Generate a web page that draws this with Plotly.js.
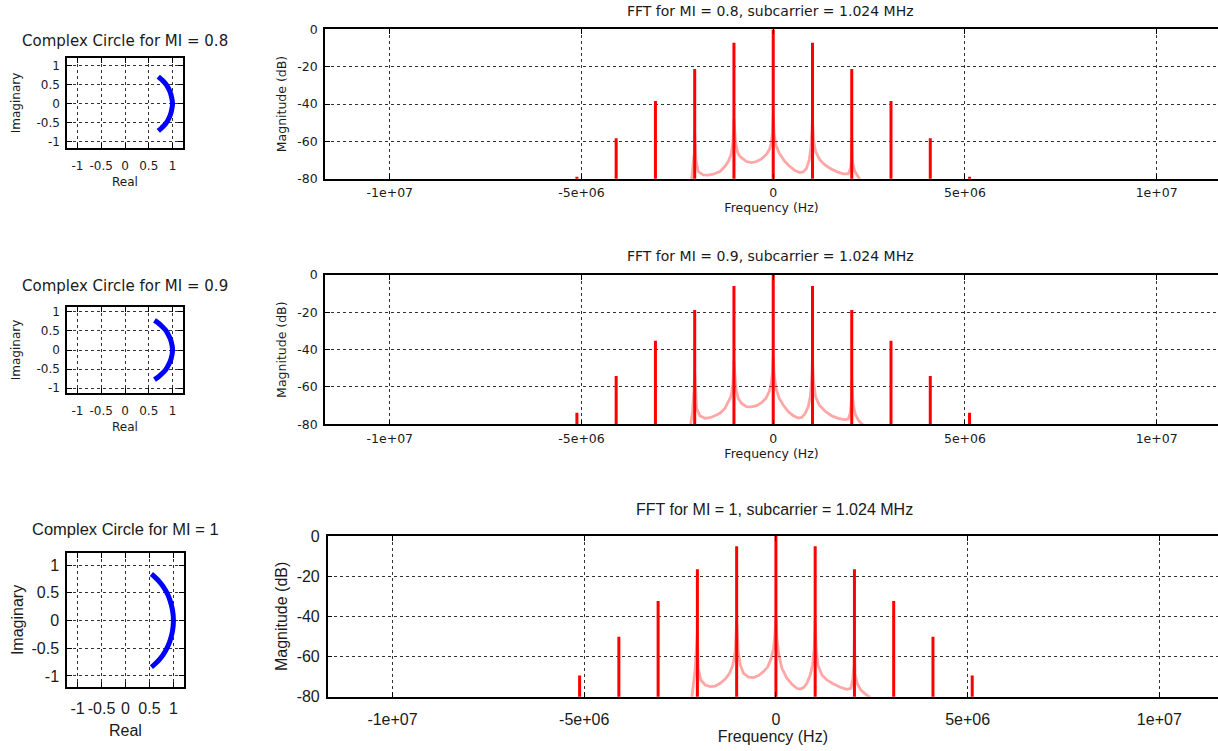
<!DOCTYPE html>
<html><head><meta charset="utf-8">
<script src="https://cdn.plot.ly/plotly-3.0.1.min.js"></script>
<style>html,body{margin:0;padding:0;background:#fff;} #chart{width:1218px;height:751px;}</style>
</head><body><div id="chart"></div>
<script>
// ---------- data ----------
const miLabels = ['0.8', '0.9', '1'];
const circleTitles = ['Complex Circle for MI = 0.8', 'Complex Circle for MI = 0.9', 'Complex Circle for MI = 1'];
const fftTitles = ['FFT for MI = 0.8, subcarrier = 1.024 MHz', 'FFT for MI = 0.9, subcarrier = 1.024 MHz', 'FFT for MI = 1, subcarrier = 1.024 MHz'];

// complex circle arcs
const arc1Re = [0.70, 0.77, 0.84, 0.90, 0.95, 0.98, 1.00, 0.98, 0.95, 0.90, 0.84, 0.77, 0.70];
const arc1Im = [0.72, 0.64, 0.55, 0.44, 0.31, 0.17, 0.00, -0.17, -0.31, -0.44, -0.55, -0.64, -0.72];
const arc2Re = [0.62, 0.70, 0.78, 0.86, 0.92, 0.97, 1.00, 0.97, 0.92, 0.86, 0.78, 0.70, 0.62];
const arc2Im = [0.78, 0.71, 0.62, 0.51, 0.38, 0.23, 0.00, -0.23, -0.38, -0.51, -0.62, -0.71, -0.78];
const arc3Re = [0.54, 0.62, 0.71, 0.79, 0.87, 0.93, 0.98, 1.00, 0.98, 0.93, 0.87, 0.79, 0.71, 0.62, 0.54];
const arc3Im = [0.84, 0.78, 0.70, 0.61, 0.49, 0.36, 0.19, 0.00, -0.19, -0.36, -0.49, -0.61, -0.70, -0.78, -0.84];

// spectral lines (Hz, dB)
const stemFreq = [-5.12e6, -4.096e6, -3.072e6, -2.048e6, -1.024e6, 0, 1.024e6, 2.048e6, 3.072e6, 4.096e6, 5.12e6];
const stem1Db = [-79.0, -58.3, -38.4, -21.2, -7.2, 0, -7.2, -21.2, -38.4, -58.3, -79.0];
const stem2Db = [-73.8, -54.1, -35.2, -18.8, -5.9, 0, -5.9, -18.8, -35.2, -54.1, -73.8];
const stem3Db = [-69.5, -50.1, -32.4, -16.6, -5.1, 0, -5.1, -16.6, -32.4, -50.1, -69.5];

// leakage curve (light red) MI = 0.8
const leak1F = [-2.130e6, -2.087e6, -2.060e6, -2.048e6, -2.017e6, -1.956e6, -1.826e6, -1.695e6, -1.565e6, -1.391e6, -1.261e6, -1.174e6, -1.104e6, -1.052e6, -1.024e6,
  -0.985e6, -0.930e6, -0.869e6, -0.696e6, -0.565e6, -0.435e6, -0.304e6, -0.174e6, -0.096e6, -0.052e6, -0.017e6, 0,
  0.026e6, 0.070e6, 0.157e6, 0.304e6, 0.435e6, 0.565e6, 0.696e6, 0.782e6, 0.869e6, 0.939e6, 0.982e6, 1.009e6, 1.024e6,
  1.052e6, 1.104e6, 1.217e6, 1.348e6, 1.478e6, 1.652e6, 1.826e6, 1.956e6, 2.017e6, 2.043e6, 2.048e6, 2.069e6, 2.130e6, 2.200e6, 2.260e6];
const leak1Db = [-80.5, -73.5, -66.4, -55.0, -69.9, -76.2, -78.0, -78.1, -77.6, -76.2, -73.5, -70.8, -67.3, -61.0, -48.0,
  -60.0, -66.0, -68.1, -70.8, -71.4, -70.8, -69.4, -66.9, -64.2, -61.0, -54.8, -46.0,
  -56.6, -61.9, -66.4, -70.8, -73.5, -75.6, -76.7, -76.4, -74.4, -69.9, -63.7, -55.7, -48.0,
  -59.2, -65.5, -69.9, -72.6, -74.4, -76.2, -77.4, -77.4, -74.4, -69.0, -58.0, -71.7, -76.2, -78.9, -80.5];

// leakage curve MI = 0.9
const leak2F = [-2.156e6, -2.104e6, -2.069e6, -2.048e6, -2.000e6, -1.913e6, -1.782e6, -1.652e6, -1.521e6, -1.391e6, -1.261e6, -1.174e6, -1.104e6, -1.052e6, -1.024e6,
  -0.974e6, -0.913e6, -0.826e6, -0.696e6, -0.565e6, -0.435e6, -0.304e6, -0.191e6, -0.104e6, -0.052e6, -0.017e6, 0,
  0.026e6, 0.070e6, 0.157e6, 0.261e6, 0.391e6, 0.522e6, 0.652e6, 0.739e6, 0.826e6, 0.913e6, 0.965e6, 1.000e6, 1.024e6,
  1.052e6, 1.104e6, 1.200e6, 1.348e6, 1.521e6, 1.695e6, 1.869e6, 1.956e6, 2.008e6, 2.043e6, 2.048e6, 2.087e6, 2.147e6, 2.234e6, 2.347e6];
const leak2Db = [-80.5, -73.2, -62.5, -52.0, -71.5, -75.4, -76.8, -76.5, -75.4, -74.1, -71.5, -68.4, -65.2, -58.9, -46.0,
  -60.7, -66.1, -68.8, -70.6, -70.7, -70.0, -68.4, -66.1, -62.5, -58.1, -51.8, -44.0,
  -53.6, -60.7, -66.1, -69.7, -73.2, -75.4, -76.6, -76.3, -74.5, -70.6, -65.2, -57.2, -45.0,
  -57.2, -65.2, -69.7, -72.9, -75.4, -76.8, -77.5, -77.2, -74.1, -66.1, -56.0, -69.7, -75.0, -78.2, -80.5];

// leakage curve MI = 1
const leak3F = [-2.192e6, -2.148e6, -2.105e6, -2.079e6, -2.048e6, -2.027e6, -1.957e6, -1.844e6, -1.714e6, -1.583e6, -1.453e6, -1.322e6, -1.209e6, -1.122e6, -1.062e6, -1.024e6,
  -0.983e6, -0.931e6, -0.844e6, -0.714e6, -0.583e6, -0.453e6, -0.323e6, -0.209e6, -0.123e6, -0.062e6, -0.027e6, 0,
  0.025e6, 0.077e6, 0.156e6, 0.286e6, 0.417e6, 0.547e6, 0.634e6, 0.721e6, 0.808e6, 0.895e6, 0.955e6, 0.999e6, 1.024e6,
  1.051e6, 1.095e6, 1.199e6, 1.329e6, 1.503e6, 1.677e6, 1.851e6, 1.955e6, 2.008e6, 2.034e6, 2.048e6, 2.068e6, 2.129e6, 2.216e6, 2.329e6, 2.460e6];
const leak3Db = [-80.5, -74.2, -65.9, -57.6, -48.0, -65.9, -71.7, -74.2, -75.0, -74.7, -73.3, -71.2, -68.4, -64.2, -57.6, -42.0,
  -57.6, -64.2, -68.4, -70.3, -70.5, -69.5, -67.5, -65.0, -60.9, -55.9, -49.3, -40.0,
  -50.9, -59.2, -65.9, -70.8, -73.8, -75.8, -76.2, -75.5, -73.3, -69.2, -64.2, -55.9, -42.0,
  -55.9, -64.2, -69.2, -71.7, -73.7, -75.3, -76.3, -75.8, -70.8, -64.2, -52.0, -69.2, -73.8, -76.7, -78.6, -80.5];

const circleTicks = [-1, -0.5, 0, 0.5, 1];
const circleTickText = ['-1', '-0.5', '0', '0.5', '1'];
const freqTicks = [-1e7, -5e6, 0, 5e6, 1e7];
const freqTickText = ['-1e+07', '-5e+06', '0', '5e+06', '1e+07'];
const dbTicks = [-80, -60, -40, -20, 0];
const dbTickText = ['-80', '-60', '-40', '-20', '0'];

// ---------- layout helpers ----------
const W = 1218, H = 751;
const dx = (a, b) => [a / W, b / W];
const dy = (t, b) => [1 - b / H, 1 - t / H];

const fontA = 'DejaVu Sans, sans-serif';
const fontB = 'Liberation Sans, Arial, sans-serif';
const txt = '#1a1a1a';

function baseAxis(extra) {
  return Object.assign({
    showline: true, linecolor: '#000', linewidth: 1.5,
    ticks: 'inside', ticklen: 5, tickcolor: '#000', tickwidth: 1.2,
    showgrid: true, gridcolor: '#333', griddash: 'dot', gridwidth: 1,
    zeroline: false, fixedrange: true, automargin: false
  }, extra);
}

const stemsXY = (f, db) => {
  const x = [], y = [];
  f.forEach((v, i) => { x.push(v, v, null); y.push(-90, db[i], null); });
  return { x, y };
};

const arcs = [[arc1Re, arc1Im], [arc2Re, arc2Im], [arc3Re, arc3Im]];
const leaks = [[leak1F, leak1Db], [leak2F, leak2Db], [leak3F, leak3Db]];
const stems = [stem1Db, stem2Db, stem3Db];

const traces = [];
for (let r = 0; r < 3; r++) {
  const cx = 'x' + (2 * r + 1), cy = 'y' + (2 * r + 1);
  const fx = 'x' + (2 * r + 2), fy = 'y' + (2 * r + 2);
  traces.push({ type: 'scatter', mode: 'lines', x: arcs[r][0], y: arcs[r][1], xaxis: cx, yaxis: cy,
    line: { color: '#0000ff', width: 5, shape: 'spline' }, hoverinfo: 'x+y', showlegend: false, name: 'MI = ' + miLabels[r] });
  traces.push({ type: 'scatter', mode: 'lines', x: leaks[r][0], y: leaks[r][1], xaxis: fx, yaxis: fy,
    line: { color: 'rgba(255,60,60,0.45)', width: 2.8 }, showlegend: false, hoverinfo: 'x+y' });
  const s = stemsXY(stemFreq, stems[r]);
  traces.push({ type: 'scatter', mode: 'lines', x: s.x, y: s.y, xaxis: fx, yaxis: fy,
    line: { color: '#ff0000', width: 3 }, showlegend: false, hoverinfo: 'x+y' });
}

// geometry of each row (pixels)
const rows = [
  { cx: [67, 183], cy: [58, 148], cyr: [-1.17, 1.21], fx: [325, 1218], fy: [29.3, 178.7], fxr: [-11.69e6, 11.6e6],
    fam: fontA, fs: 12.5, cfs: 12, tfs: 14, ctfs: 15, ct: 41, ft: 11, ctx: 125, ftx: 771, realY: 182,
    cxs: 6, fxs: 2, imS: 13, magS: 8 },
  { cx: [67, 183], cy: [307, 393], cyr: [-1.13, 1.13], fx: [325, 1218], fy: [275, 424.3], fxr: [-11.69e6, 11.6e6],
    fam: fontA, fs: 12.5, cfs: 12, tfs: 14, ctfs: 15, ct: 286, ft: 256, ctx: 125, ftx: 771, realY: 427,
    cxs: 6, fxs: 2, imS: 13, magS: 8 },
  { cx: [67, 184], cy: [553, 687], cyr: [-1.2, 1.22], fx: [327.7, 1218], fy: [536, 696.7], fxr: [-11.69e6, 11.53e6],
    fam: fontB, fs: 16, cfs: 16, tfs: 16, ctfs: 16.5, ct: 529, ft: 509, ctx: 125, ftx: 775, realY: 730,
    cxs: 6, fxs: 7, imS: 4, magS: 5 }
];

const layout = {
  width: W, height: H, margin: { l: 0, r: 0, t: 0, b: 0 },
  paper_bgcolor: '#fff', plot_bgcolor: '#fff', showlegend: false,
  font: { family: fontA, color: txt }, annotations: []
};

rows.forEach((g, r) => {
  const ci = 2 * r + 1, fi = 2 * r + 2;
  const tf = { family: g.fam, size: g.fs, color: txt };
  const cf = { family: g.fam, size: g.cfs, color: txt };
  layout['xaxis' + ci] = baseAxis({ domain: dx(...g.cx), anchor: 'y' + ci, range: [-1.22, 1.22], mirror: 'ticks',
    tickvals: circleTicks, ticktext: circleTickText, tickfont: cf, ticklabelstandoff: g.cxs });
  layout['yaxis' + ci] = baseAxis({ domain: dy(...g.cy), anchor: 'x' + ci, range: g.cyr, mirror: 'ticks',
    tickvals: circleTicks, ticktext: circleTickText, tickfont: cf, ticklabelstandoff: 3,
    title: { text: 'Imaginary', font: cf, standoff: g.imS } });
  layout['xaxis' + fi] = baseAxis({ domain: dx(...g.fx), anchor: 'y' + fi, range: g.fxr, mirror: 'ticks',
    tickvals: freqTicks, ticktext: freqTickText, tickfont: tf, ticklabelstandoff: g.fxs,
    title: { text: 'Frequency (Hz)', font: tf, standoff: 2 } });
  layout['yaxis' + fi] = baseAxis({ domain: dy(...g.fy), anchor: 'x' + fi, range: [-80.01, 0.01], mirror: false,
    tickvals: dbTicks, ticktext: dbTickText, tickfont: tf, ticklabelstandoff: 3,
    title: { text: 'Magnitude (dB)', font: tf, standoff: g.magS } });
  layout.annotations.push({ xref: 'paper', yref: 'paper', x: g.ctx / W, y: 1 - g.realY / H, xanchor: 'center', yanchor: 'middle',
    text: 'Real', showarrow: false, font: cf });
  layout.annotations.push({ xref: 'paper', yref: 'paper', x: g.ctx / W, y: 1 - g.ct / H, xanchor: 'center', yanchor: 'middle',
    text: circleTitles[r], showarrow: false, font: { family: g.fam, size: g.ctfs, color: txt } });
  layout.annotations.push({ xref: 'paper', yref: 'paper', x: g.ftx / W, y: 1 - g.ft / H, xanchor: 'center', yanchor: 'middle',
    text: fftTitles[r], showarrow: false, font: { family: g.fam, size: g.tfs, color: txt } });
});

Plotly.newPlot('chart', traces, layout, { displayModeBar: false });
</script></body></html>
